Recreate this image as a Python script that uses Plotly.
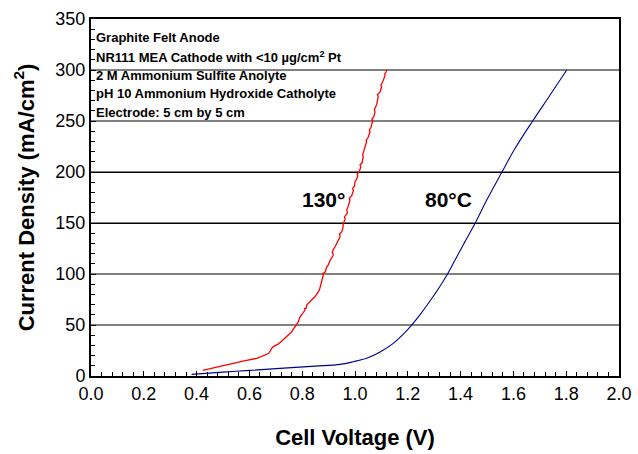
import plotly.graph_objects as go

# 130 °C curve (red) (jagged trace)
v130 = [0.423, 0.47, 0.527, 0.58, 0.628, 0.645, 0.665, 0.672, 0.678, 0.682, 0.684, 0.691, 0.70,
        0.71, 0.72, 0.728, 0.737, 0.745, 0.752, 0.760, 0.768, 0.777, 0.781, 0.785, 0.792, 0.796,
        0.803, 0.811, 0.809, 0.815, 0.817, 0.825, 0.833, 0.841, 0.848, 0.858, 0.862, 0.867,
        0.871, 0.874, 0.880, 0.878, 0.887, 0.893, 0.899, 0.905, 0.912, 0.918, 0.914, 0.917,
        0.925, 0.930, 0.937, 0.944, 0.941, 0.950, 0.954, 0.956, 0.963, 0.960, 0.971, 0.969,
        0.975, 0.981, 0.978, 0.988, 0.994, 0.991, 0.998, 1.0, 1.006, 1.011, 1.008, 1.016, 1.022,
        1.019, 1.027, 1.031, 1.029, 1.036, 1.040, 1.044, 1.042, 1.050, 1.057, 1.054, 1.061,
        1.067, 1.064, 1.071, 1.076, 1.073, 1.082, 1.088, 1.085, 1.094, 1.101, 1.098, 1.106,
        1.110, 1.114, 1.112, 1.117, 1.12]
i130 = [5.6, 8.5, 11.8, 14.8, 17.3, 19.0, 20.6, 22.0, 24.0, 26.5, 27.0, 28.8, 30.0,
        31.5, 33.5, 35.3, 37.5, 39.5, 41.0, 43.4, 46.5, 50.0, 52.0, 53.0, 58.0, 59.5,
        61.5, 64.7, 66.0, 66.5, 69.6, 72.0, 74.0, 76.0, 77.7, 81.0, 83.0, 86.0,
        91.0, 93.0, 99.0, 100.5, 102.0, 107.0, 109.0, 113.0, 116.0, 118.6, 121.0, 123.5,
        127.0, 130.0, 133.0, 137.0, 139.0, 141.5, 145.0, 149.7, 154.0, 156.0, 159.5, 163.0,
        167.0, 172.5, 174.0, 177.0, 182.0, 184.0, 186.0, 190.5, 193.0, 196.0, 198.0, 200.3, 205.0,
        207.0, 209.0, 215.0, 217.0, 222.0, 226.0, 229.7, 231.0, 234.0, 239.5, 241.0, 244.0,
        250.0, 252.0, 254.0, 259.0, 261.0, 266.0, 274.0, 276.0, 278.0, 283.6, 285.0, 289.0,
        292.0, 295.0, 296.0, 297.5, 300.0]

# 80 °C curve (blue)
v80 = [0.381, 0.5, 0.6, 0.716, 0.85, 0.943, 0.994, 1.044, 1.095, 1.145, 1.183, 1.208, 1.246,
       1.284, 1.322, 1.35, 1.379, 1.415, 1.455, 1.499, 1.556, 1.606, 1.673, 1.739, 1.802]
i80 = [1.6, 3.8, 5.5, 7.5, 9.7, 11.4, 14.0, 17.3, 23.5, 32.0, 41.0, 48.0, 60.0,
       73.5, 88.0, 99.7, 113.7, 131.0, 149.7, 172.5, 199.7, 223.0, 250.0, 275.5, 300.0]

x_ticks = [0.0, 0.2, 0.4, 0.6, 0.8, 1.0, 1.2, 1.4, 1.6, 1.8, 2.0]
x_labels = ["0.0", "0.2", "0.4", "0.6", "0.8", "1.0", "1.2", "1.4", "1.6", "1.8", "2.0"]
y_ticks = [0, 50, 100, 150, 200, 250, 300, 350]
dark_grid = [150, 200]

notes = ["Graphite Felt Anode",
         "NR111 MEA Cathode with <10 µg/cm<sup>2</sup> Pt",
         "2 M Ammonium Sulfite Anolyte",
         "pH 10 Ammonium Hydroxide Catholyte",
         "Electrode: 5 cm by 5 cm"]
note_y = [332, 313, 295, 276.5, 258]

labels = ["130°", "80°C"]
label_x = [0.879, 1.356]
label_y = [173.5, 173.5]

BOLD = "Liberation Sans, Arial, sans-serif"
NARROW = "Liberation Sans Narrow, Arial Narrow, Liberation Sans, sans-serif"

fig = go.Figure()
fig.add_trace(go.Scatter(x=[None], y=[None], yaxis="y2", showlegend=False, hoverinfo="skip"))
fig.add_trace(go.Scatter(x=v80, y=i80, mode="lines",
                         line=dict(color="#00008B", width=1.1, shape="spline", smoothing=1.0),
                         showlegend=False))
fig.add_trace(go.Scatter(x=v130, y=i130, mode="lines", line=dict(color="#FF0000", width=1.3),
                         showlegend=False))

for t, yy in zip(notes, note_y):
    fig.add_annotation(x=0.01, y=yy, xref="x", yref="y", text="<b>" + t + "</b>",
                       showarrow=False, xanchor="left", yanchor="middle",
                       font=dict(family=BOLD, size=13, color="black"))
for t, xx, yy in zip(labels, label_x, label_y):
    fig.add_annotation(x=xx, y=yy, xref="x", yref="y", text="<b>" + t + "</b>",
                       showarrow=False, xanchor="center", yanchor="middle",
                       font=dict(family=BOLD, size=21, color="black"))

fig.update_layout(
    width=638, height=454,
    margin=dict(l=91, r=19, t=19, b=78),
    paper_bgcolor="white", plot_bgcolor="white",
    xaxis=dict(range=[0, 2.0], tickvals=x_ticks, ticktext=x_labels, automargin=False,
               ticks="inside", ticklen=5, tickcolor="black",
               minor=dict(dtick=0.04, ticks="inside", ticklen=4, tickcolor="black"),
               showgrid=False, zeroline=False,
               showline=True, linecolor="black", linewidth=2, mirror=True,
               tickfont=dict(family=NARROW, size=18, color="black"),
               title=dict(text="<b>Cell Voltage (V)</b>", standoff=27,
                          font=dict(family=BOLD, size=22, color="black"))),
    yaxis=dict(range=[0, 350], tickvals=y_ticks, automargin=False,
               ticks="inside", ticklen=5, tickcolor="black",
               minor=dict(dtick=10, ticks="inside", ticklen=4, tickcolor="black"),
               showgrid=True, gridcolor="#808080", gridwidth=1.5, zeroline=False,
               showline=True, linecolor="black", linewidth=2, mirror=True,
               tickfont=dict(family=NARROW, size=18, color="black"),
               title=dict(text="<b>Current Density (mA/cm<sup>2</sup>)</b>",
                          font=dict(family=BOLD, size=22, color="black"))),
    yaxis2=dict(range=[0, 350], overlaying="y", tickvals=dark_grid, showticklabels=False,
                automargin=False, ticks="", showgrid=True, gridcolor="black", gridwidth=1.2,
                zeroline=False, showline=False),
)

fig.write_html("out.html")
